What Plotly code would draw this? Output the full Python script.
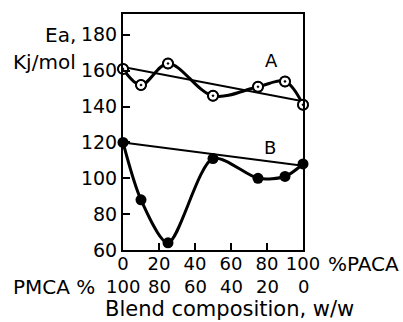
import plotly.graph_objects as go

# Data
comp = [0, 10, 25, 50, 75, 90, 100]          # % PACA (w/w)
ea_A = [161, 152, 164, 146, 151, 154, 141]   # series A, Ea (kJ/mol)
ea_B = [120, 88, 64, 111, 100, 101, 108]     # series B, Ea (kJ/mol)
trend_x = [0, 100]
trend_A = [162, 143]
trend_B = [120, 107]
x_ticks = [0, 20, 40, 60, 80, 100]
x_ticklabels = ["0", "20", "40", "60", "80", "100"]
pmca_labels = ["100", "80", "60", "40", "20", "0"]
y_ticks = [60, 80, 100, 120, 140, 160, 180]

FONT = "DejaVu Sans"
fig = go.Figure()

fig.add_trace(go.Scatter(x=trend_x, y=trend_A, mode="lines",
                         line=dict(color="black", width=2), cliponaxis=False))
fig.add_trace(go.Scatter(x=trend_x, y=trend_B, mode="lines",
                         line=dict(color="black", width=2), cliponaxis=False))
fig.add_trace(go.Scatter(x=comp, y=ea_A, mode="lines",
                         line=dict(color="black", width=3, shape="spline", smoothing=1.0),
                         cliponaxis=False))
fig.add_trace(go.Scatter(x=comp, y=ea_B, mode="lines",
                         line=dict(color="black", width=3, shape="spline", smoothing=0.8),
                         cliponaxis=False))
fig.add_trace(go.Scatter(x=comp, y=ea_A, mode="markers",
                         marker=dict(symbol="circle", size=10, color="white",
                                     line=dict(color="black", width=2)),
                         cliponaxis=False))
fig.add_trace(go.Scatter(x=comp, y=ea_A, mode="markers",
                         marker=dict(symbol="circle-open-dot", size=10, color="black",
                                     line=dict(color="black", width=1.5)),
                         cliponaxis=False))
fig.add_trace(go.Scatter(x=comp, y=ea_B, mode="markers",
                         marker=dict(symbol="circle", size=11, color="black"),
                         cliponaxis=False))

def ann(text, x, y, size=20, xanchor="center", xref="paper", yref="paper"):
    return dict(text=text, x=x, y=y, xref=xref, yref=yref, xanchor=xanchor,
                yanchor="middle", showarrow=False,
                font=dict(size=size, family=FONT, color="black"))

annotations = [
    ann("A", 82.5, 165.5, 18, xref="x", yref="y"),
    ann("B", 81.5, 117, 18, xref="x", yref="y"),
    ann("Ea,", -0.249, 0.912, 20, "right"),
    ann("Kj/mol", -0.249, 0.798, 20, "right"),
    ann("%PACA", 1.13, -0.060, 20, "left"),
    ann("PMCA %", -0.144, -0.155, 20, "right"),
    ann("Blend composition, w/w", 0.593, -0.252, 21),
]
for xv, lab in zip(x_ticks, pmca_labels):
    annotations.append(ann(lab, xv / 100.0, -0.155, 18))

fig.update_layout(
    width=403, height=322,
    margin=dict(l=123, r=100, t=12, b=72),
    paper_bgcolor="white", plot_bgcolor="white",
    showlegend=False,
    font=dict(family=FONT, color="black"),
    annotations=annotations,
)
fig.update_xaxes(range=[0, 100], tickvals=x_ticks, ticktext=x_ticklabels,
                 ticks="inside", ticklen=7, tickwidth=2, tickcolor="black",
                 showline=True, linecolor="black", linewidth=2, mirror=True,
                 showgrid=False, zeroline=False, ticklabelstandoff=-4,
                 tickfont=dict(size=18, family=FONT, color="black"))
fig.update_yaxes(range=[60, 191.6], tickvals=y_ticks,
                 ticks="inside", ticklen=7, tickwidth=2, tickcolor="black",
                 showline=True, linecolor="black", linewidth=2, mirror=True,
                 showgrid=False, zeroline=False,
                 tickfont=dict(size=19, family=FONT, color="black"))

fig.write_html("out.html")
